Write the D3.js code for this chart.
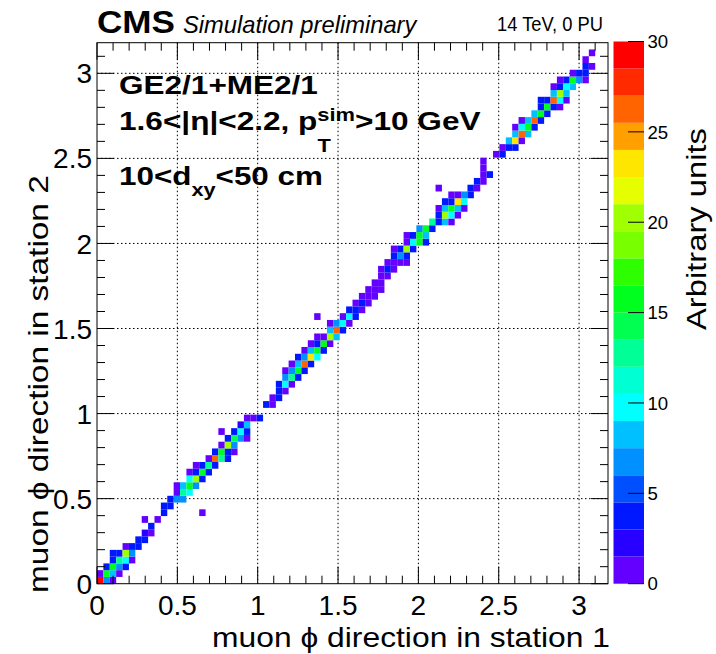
<!DOCTYPE html>
<html>
<head>
<meta charset="utf-8">
<script src="https://cdn.jsdelivr.net/npm/d3@7"></script>
<style>
  html, body { margin: 0; padding: 0; background: #fff; }
  svg text { font-family: 'Liberation Sans', Arial, Helvetica, sans-serif; }
</style>
</head>
<body>
<div id="chart"></div>
<script>
'use strict'

// histogram binning: 80 x 80 bins over [0, 3.18]
const nBins = 80
const axisMax = 3.18

// occupied rows: row bin, first column bin, contents (0 = empty)
const rowBin = [0, 1, 2, 3, 4, 5, 6, 7, 8, 9, 10, 11, 12, 13, 14, 15, 16, 17, 18, 19,
  20, 21, 22, 23, 24, 26, 27, 28, 29, 30, 31, 32, 33, 34, 35, 36, 37, 38, 39, 40,
  41, 42, 43, 44, 45, 46, 47, 48, 49, 50, 51, 52, 53, 54, 55, 56, 57, 58, 59, 60,
  61, 62, 63, 64, 65, 66, 67, 68, 69, 70, 71, 72, 73, 74, 75, 76, 77, 78]
const rowStart = [0, 0, 1, 2, 2, 4, 6, 7, 8, 7, 10, 10, 11, 12, 12, 14, 14, 15, 17, 18,
  19, 20, 19, 22, 23, 26, 27, 28, 28, 29, 29, 30, 31, 32, 33, 34, 36, 36, 38, 39,
  40, 41, 42, 43, 44, 44, 45, 46, 46, 48, 48, 50, 52, 53, 53, 54, 55, 58, 59, 60,
  60, 60, 62, 63, 64, 65, 65, 66, 68, 69, 69, 71, 71, 72, 74, 76, 76, 77]
const rowCounts = [
  [29, 7, 1], [1, 16, 8, 1], [4, 16, 7, 4], [4, 12, 10, 1], [4, 4, 20, 7],
  [1, 4, 4], [4, 4], [2, 1], [4], [1, 0, 1],
  [4], [4, 4], [4, 7, 7], [1, 12, 10], [1, 8, 16, 7],
  [10, 20, 4], [1, 4, 16, 4], [1, 4, 12, 4], [1, 26, 12, 4], [4, 16, 4, 1],
  [1, 20, 7], [4, 14, 7, 1], [1, 0, 4, 9, 4], [2, 8], [1, 1, 4],
  [4, 1], [1, 4], [4, 1], [4, 10, 1], [7, 12, 4],
  [1, 7, 16, 4], [1, 8, 26, 4], [4, 7, 23, 10], [1, 8, 16, 4], [1, 4, 16, 1],
  [1, 1, 20, 8], [8, 26, 4], [1, 7, 10, 1], [1, 10, 4], [4, 4, 1],
  [1, 4, 1], [1, 1, 1], [1, 1, 1], [1, 1], [1, 1],
  [1, 4, 1], [1, 1, 1, 1], [4, 7, 4], [1, 4, 20, 4], [1, 10, 16, 4],
  [1, 4, 16, 8], [7, 16, 4], [12, 4, 8, 1], [4, 20, 10, 1], [1, 8, 16, 8, 1],
  [4, 4, 23, 10], [1, 1, 7, 4], [4, 1], [4, 1], [1, 4],
  [1], [1], [1, 4], [1, 4, 4], [8, 23, 1],
  [8, 26, 8], [1, 10, 16, 4], [1, 8, 26, 4], [8, 16, 4], [4, 16, 4, 1],
  [4, 4, 26, 10, 1], [8, 20, 8], [1, 4, 10, 8], [1, 4, 16, 7, 1], [1, 4, 4],
  [4, 1], [1], [1]
]
// isolated entries away from the band: [column bin, row bin, content]
const strayCells = [[16, 10, 1], [34, 39, 1], [53, 58, 1]]

const tickValues = [0, 0.5, 1, 1.5, 2, 2.5, 3]
const tickLabels = ['0', '0.5', '1', '1.5', '2', '2.5', '3']
const zTickValues = [0, 5, 10, 15, 20, 25, 30]
const zTickLabels = ['0', '5', '10', '15', '20', '25', '30']
const zMax = 30

// 20-level rainbow palette, low to high
const palette = ['#6400ff', '#2800ff', '#0018ff', '#0050ff', '#0090ff', '#00c0ff',
  '#00ffff', '#00ffd2', '#00ff96', '#00ff50', '#00ff1e', '#2dff00', '#78ff00',
  '#a0ff00', '#e6ff00', '#ffe600', '#ffa000', '#ff6400', '#ff2a00', '#ff0000']

const W = 716
const H = 654
const frame = { left: 97, right: 608, top: 42.7, bottom: 583.7 }
const pal = { left: 613.5, right: 644, top: 41.5, bottom: 583.7 }
const fontAxis = 28

const svg = d3.select('#chart').append('svg')
  .attr('width', W).attr('height', H)

const x = d3.scaleLinear().domain([0, axisMax]).range([frame.left, frame.right])
const y = d3.scaleLinear().domain([0, axisMax]).range([frame.bottom, frame.top])
const z = d3.scaleLinear().domain([0, zMax]).range([pal.bottom, pal.top])
const binW = axisMax / nBins
const color = v => palette[Math.min(palette.length - 1, Math.floor(v / (zMax / palette.length)))]

// flatten the rows into cells
const cells = []
rowBin.forEach((iy, r) => {
  rowCounts[r].forEach((v, k) => {
    if (v > 0) cells.push({ ix: rowStart[r] + k, iy: iy, v: v })
  })
})
strayCells.forEach(d => cells.push({ ix: d[0], iy: d[1], v: d[2] }))

// grid lines
const grid = svg.append('g')
grid.selectAll('line.gx').data(tickValues.filter(d => d > 0)).join('line')
  .attr('x1', d => x(d)).attr('x2', d => x(d))
  .attr('y1', frame.top).attr('y2', frame.bottom)
grid.selectAll('line.gy').data(tickValues.filter(d => d > 0)).join('line')
  .attr('class', 'gy')
  .attr('x1', frame.left).attr('x2', frame.right)
  .attr('y1', d => y(d)).attr('y2', d => y(d))
grid.selectAll('line')
  .attr('stroke', '#000').attr('stroke-width', 1)
  .attr('stroke-dasharray', '1.5,2.5')

// cells
svg.append('g').selectAll('rect').data(cells).join('rect')
  .attr('x', d => x(d.ix * binW))
  .attr('y', d => y((d.iy + 1) * binW))
  .attr('width', d => x((d.ix + 1) * binW) - x(d.ix * binW))
  .attr('height', d => y(d.iy * binW) - y((d.iy + 1) * binW))
  .attr('fill', d => color(d.v))

// frame and ticks
svg.append('rect')
  .attr('x', frame.left).attr('y', frame.top)
  .attr('width', frame.right - frame.left).attr('height', frame.bottom - frame.top)
  .attr('fill', 'none').attr('stroke', '#000').attr('stroke-width', 1)

const minor = d3.range(0, 32).map(i => i / 10).filter(d => d <= axisMax)
const ticks = svg.append('g').attr('stroke', '#000').attr('stroke-width', 1)
minor.forEach(d => {
  const len = tickValues.includes(Math.round(d * 10) / 10) ? 17 : 8
  ticks.append('line').attr('x1', x(d)).attr('x2', x(d))
    .attr('y1', frame.bottom).attr('y2', frame.bottom - len)
  ticks.append('line').attr('x1', x(d)).attr('x2', x(d))
    .attr('y1', frame.top).attr('y2', frame.top + len)
  ticks.append('line').attr('y1', y(d)).attr('y2', y(d))
    .attr('x1', frame.left).attr('x2', frame.left + len)
  ticks.append('line').attr('y1', y(d)).attr('y2', y(d))
    .attr('x1', frame.right).attr('x2', frame.right - len)
})

// tick labels
svg.append('g').selectAll('text').data(tickValues).join('text')
  .attr('x', d => x(d)).attr('y', 615)
  .attr('text-anchor', 'middle').attr('font-size', fontAxis)
  .text((d, i) => tickLabels[i])
svg.append('g').selectAll('text').data(tickValues).join('text')
  .attr('x', 92).attr('y', d => y(d)).attr('dy', '0.36em')
  .attr('text-anchor', 'end').attr('font-size', fontAxis)
  .text((d, i) => tickLabels[i])

// palette
svg.append('g').selectAll('rect').data(palette).join('rect')
  .attr('x', pal.left).attr('width', pal.right - pal.left)
  .attr('y', (c, i) => z((i + 1) * zMax / palette.length))
  .attr('height', (c, i) => z(i * zMax / palette.length) - z((i + 1) * zMax / palette.length))
  .attr('fill', c => c)
const zt = svg.append('g')
zt.selectAll('line').data(zTickValues).join('line')
  .attr('x1', pal.right).attr('x2', pal.right - 16)
  .attr('y1', d => z(d)).attr('y2', d => z(d))
  .attr('stroke', '#000').attr('stroke-width', 1)
zt.selectAll('text').data(zTickValues).join('text')
  .attr('x', 647.5).attr('y', d => z(d)).attr('dy', '0.36em')
  .attr('font-size', 18.6)
  .text((d, i) => zTickLabels[i])

// text stretched to a measured width
function label (x0, y0, width, opts, build) {
  const g = svg.append('g')
  const t = g.append('text')
    .attr('font-size', opts.size)
    .attr('font-weight', opts.weight || 'normal')
    .attr('font-style', opts.style || 'normal')
    .attr('text-anchor', opts.anchor || 'start')
  build(t)
  const w = t.node().getBBox().width
  const s = width / w
  g.attr('transform', 'translate(' + x0 + ',' + y0 + ') rotate(' + (opts.rotate || 0) + ') scale(' + s + ',1)')
}

label(97, 33, 78, { size: 32, weight: 'bold' }, t => t.text('CMS'))
label(183, 33, 235, { size: 23, style: 'italic' }, t => t.text('Simulation preliminary'))
label(603, 31, 106, { size: 21, anchor: 'end' }, t => t.text('14 TeV, 0 PU'))

label(119, 94, 199, { size: 26, weight: 'bold' }, t => t.text('GE2/1+ME2/1'))
label(119, 130, 361, { size: 26, weight: 'bold' }, t => {
  t.append('tspan').text('1.6<|η|<2.2, p')
  t.append('tspan').attr('font-size', 18).attr('dy', 22).text('T')
  t.append('tspan').attr('font-size', 18).attr('dx', -11).attr('dy', -31).text('sim')
  t.append('tspan').attr('dy', 9).text('>10 GeV')
})
label(119, 185, 204, { size: 26, weight: 'bold' }, t => {
  t.append('tspan').text('10<d')
  t.append('tspan').attr('font-size', 18).attr('dy', 11).text('xy')
  t.append('tspan').attr('dy', -11).text('<50 cm')
})

label(610, 647, 398, { size: 27, anchor: 'end' }, t => t.text('muon ϕ direction in station 1'))
label(48, 593, 418, { size: 27, rotate: -90 }, t => t.text('muon ϕ direction in station 2'))
label(706, 330, 202, { size: 27, rotate: -90 }, t => t.text('Arbitrary units'))
</script>
</body>
</html>
